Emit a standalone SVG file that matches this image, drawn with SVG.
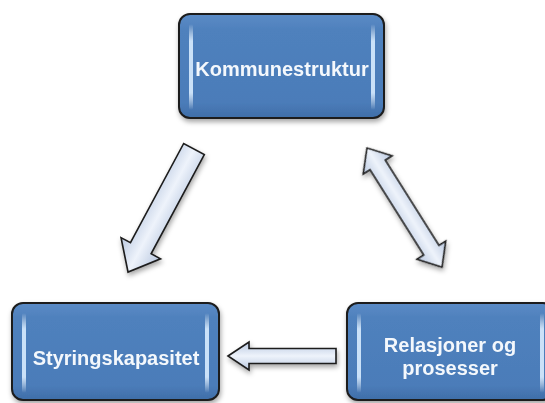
<svg xmlns="http://www.w3.org/2000/svg" width="545" height="403" viewBox="0 0 545 403">
<defs>
<linearGradient id="boxFill" x1="0" y1="0" x2="0" y2="1">
<stop offset="0" stop-color="#5b8bc6"/>
<stop offset="0.15" stop-color="#4f81bd"/>
<stop offset="0.85" stop-color="#4b7cb9"/>
<stop offset="1" stop-color="#3f6ea8"/>
</linearGradient>
<linearGradient id="strip" x1="0" y1="0" x2="0" y2="1">
<stop offset="0" stop-color="#ffffff" stop-opacity="0"/>
<stop offset="0.2" stop-color="#d8ecff" stop-opacity="0.9"/>
<stop offset="0.8" stop-color="#d8ecff" stop-opacity="0.9"/>
<stop offset="1" stop-color="#ffffff" stop-opacity="0"/>
</linearGradient>
<linearGradient id="arrowFill" x1="0" y1="0" x2="0" y2="1">
<stop offset="0" stop-color="#b9c8e0"/>
<stop offset="0.5" stop-color="#eef3fb"/>
<stop offset="1" stop-color="#b9c8e0"/>
</linearGradient>
<filter id="shadow" x="-10%" y="-10%" width="130%" height="140%">
<feDropShadow dx="1" dy="3" stdDeviation="2.5" flood-color="#000" flood-opacity="0.35"/>
</filter>
</defs>
<style>
.box{fill:url(#boxFill);stroke:#1c1c1c;stroke-width:2}
.hl{fill:url(#strip)}
.lbl{fill:#f4f8fc;font-family:"Liberation Sans",Arial,sans-serif;font-size:20px;font-weight:bold;text-anchor:middle}
.arr{fill:url(#arrowFill);stroke:#1c1c1c;stroke-width:1.6;stroke-linejoin:miter}
</style>
<g id="connectors" filter="url(#shadow)">
<polygon class="arr" transform="translate(194,149) rotate(118.2)" points="0,-11.7 112.6,-11.7 112.6,-22.4 139.6,0 112.6,22.4 112.6,11.7 0,11.7"/>
<polygon class="arr" transform="translate(367,148) rotate(57.8)" points="0,0 20,-17 20,-9 120.7,-9 120.7,-17 140.7,0 120.7,17 120.7,9 20,9 20,17"/>
<polygon class="arr" points="228,356 249,342 249,348.5 336,348.5 336,363.5 249,363.5 249,370"/>
</g>
<g id="kommunestruktur" filter="url(#shadow)">
<rect class="box" x="179" y="14" width="205" height="104" rx="11"/>
<rect class="hl" x="189" y="24" width="4" height="86" rx="2"/>
<rect class="hl" x="371" y="24" width="4" height="86" rx="2"/>
<text class="lbl" x="282" y="76">Kommunestruktur</text>
</g>
<g id="styringskapasitet" filter="url(#shadow)">
<rect class="box" x="12" y="303" width="207" height="97" rx="11"/>
<rect class="hl" x="22" y="313" width="4" height="80" rx="2"/>
<rect class="hl" x="205" y="313" width="4" height="80" rx="2"/>
<text class="lbl" x="116" y="365">Styringskapasitet</text>
</g>
<g id="relasjoner" filter="url(#shadow)">
<rect class="box" x="347" y="303" width="207" height="97" rx="11"/>
<rect class="hl" x="357" y="313" width="4" height="80" rx="2"/>
<rect class="hl" x="540" y="313" width="4" height="80" rx="2"/>
<text class="lbl" x="450" y="352">Relasjoner og</text>
<text class="lbl" x="450" y="375">prosesser</text>
</g>
</svg>
